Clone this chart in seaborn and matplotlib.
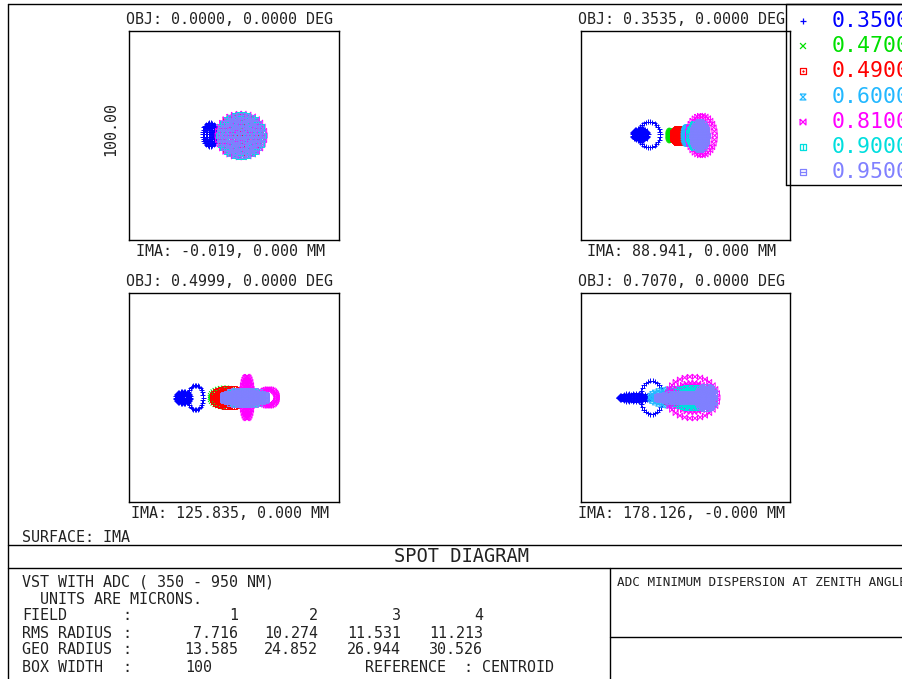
import numpy as np
import pandas as pd
import matplotlib
matplotlib.use("Agg")
import matplotlib.pyplot as plt
from matplotlib.path import Path
import seaborn as sns

# ---------------- data ----------------
WAVELENGTHS = ["0.3500", "0.4700", "0.4900", "0.6000", "0.8100", "0.9000", "0.9500"]
WAVE_COLORS = ["#0000ff", "#00e000", "#ff0000", "#22b8ff", "#ff00ff", "#00dede", "#8080ff"]
FIELD_OBJ = ["0.0000", "0.3535", "0.4999", "0.7070"]
FIELD_IMA = ["-0.019, 0.000", "88.941, 0.000", "125.835, 0.000", "178.126, -0.000"]
FIELD_NUM = ["1", "2", "3", "4"]
RMS_RADIUS = ["7.716", "10.274", "11.531", "11.213"]
GEO_RADIUS = ["13.585", "24.852", "26.944", "30.526"]
BOX_WIDTH = "100"

# spot components (microns): field, wavelength, centre, semi-axes, kind
SPOT_FIELD = [0, 0, 0, 0, 0, 0, 0,
              1, 1, 1, 1, 1, 1, 1, 1, 1,
              2, 2, 2, 2, 2, 2, 2, 2, 2,
              3, 3, 3, 3, 3, 3, 3, 3, 3, 3]
SPOT_WAVE = [0, 1, 2, 3, 4, 5, 6,
             0, 0, 1, 2, 3, 4, 4, 5, 6,
             0, 0, 1, 2, 3, 4, 4, 5, 6,
             0, 0, 1, 2, 3, 4, 4, 5, 6, 6]
SPOT_CX = [-11.4, 2.0, 2.5, 3.0, 3.4, 3.3, 3.3,
           -21.7, -17.4, -6.7, -3.3, 1.0, 7.6, 6.5, 5.0, 6.7,
           -24.3, -18.3, -4.3, -2.1, 2.9, 6.2, 16.4, 5.0, 5.0,
           -24.5, -16.2, -6.0, -4.0, -5.0, 3.3, 3.3, 3.0, 9.8, -2.0]
SPOT_CY = [0.5, 0, 0, 0, 0, 0, 0,
           0.5, 0.5, 0, 0, 0, 0, 0, 0, 0,
           0, 0, 0, 0, 0, 0, 0, 0, 0,
           0, 0, 0, 0, 0, 0, 0, 0, 0, 0]
SPOT_RX = [3.6, 9.0, 9.5, 10.0, 11.2, 10.6, 10.4,
           3.8, 5.2, 1.7, 3.1, 2.1, 6.4, 4.0, 3.5, 3.6,
           3.6, 3.6, 7.0, 8.3, 7.0, 2.4, 4.0, 8.5, 10.7,
           7.6, 5.5, 5.0, 6.0, 12.0, 12.0, 9.0, 9.0, 4.3, 12.0]
SPOT_RY = [5.7, 9.0, 9.5, 9.8, 10.5, 10.0, 9.8,
           2.9, 6.2, 2.5, 3.3, 4.0, 9.5, 7.0, 6.0, 6.7,
           3.0, 6.0, 4.5, 4.5, 3.0, 10.0, 4.0, 3.5, 3.6,
           2.0, 8.0, 3.0, 3.0, 4.0, 10.0, 7.0, 5.0, 5.5, 2.0]
SPOT_KIND = ["fill"] * 7 + \
            ["fill", "ring", "fill", "fill", "fill", "ring", "fill", "fill", "fill"] + \
            ["fill", "ring", "fill", "fill", "fill", "fill", "ring", "fill", "fill"] + \
            ["fill", "ring", "fill", "fill", "fill", "ring", "fill", "fill", "fill", "fill"]

# ---------------- ray sampling pattern (hexapolar) ----------------
def hexapolar(n_rings, ring_only):
    pts = [] if ring_only else [(0.0, 0.0)]
    start = n_rings if ring_only else 1
    for k in range(start, n_rings + 1):
        m = 6 * k
        for j in range(m):
            t = 2 * np.pi * j / m
            pts.append((k / n_rings * np.cos(t), k / n_rings * np.sin(t)))
    return np.array(pts)

rows = []
for f, w, cx, cy, rx, ry, kind in zip(SPOT_FIELD, SPOT_WAVE, SPOT_CX, SPOT_CY, SPOT_RX, SPOT_RY, SPOT_KIND):
    p = hexapolar(5, kind == "ring")
    for u, v in p:
        rows.append((f, w, cx + rx * u, cy + ry * v))
spots = pd.DataFrame(rows, columns=["field", "wave", "x", "y"])

# ---------------- marker shapes ----------------
M, L = Path.MOVETO, Path.LINETO
def mk(segs):
    verts, codes = [], []
    for seg in segs:
        for i, pt in enumerate(seg):
            verts.append(pt)
            codes.append(M if i == 0 else L)
    return Path(verts, codes)

sq = [(-1, -1), (1, -1), (1, 1), (-1, 1), (-1, -1)]
MARKERS = [
    mk([[(-1, 0), (1, 0)], [(0, -1), (0, 1)]]),
    mk([[(-1, -1), (1, 1)], [(-1, 1), (1, -1)]]),
    mk([sq, [(-0.3, 0), (0.3, 0)], [(0, -0.3), (0, 0.3)]]),
    mk([[(-1, 1), (1, 1), (-1, -1), (1, -1), (-1, 1)]]),
    mk([[(-1, 1), (-1, -1), (1, 1), (1, -1), (-1, 1)]]),
    mk([sq, [(0, -1), (0, 1)]]),
    mk([sq, [(-1, 0), (1, 0)]]),
]

# ---------------- figure ----------------
sns.set_style("white")
plt.rcParams["font.family"] = ["DejaVu Sans Mono", "DejaVu Sans"]
W, H = 902, 679
fig = plt.figure(figsize=(W / 100, H / 100), dpi=100)
fig.patch.set_facecolor("white")

ov = fig.add_axes([0, 0, 1, 1])
ov.set_xlim(0, W)
ov.set_ylim(H, 0)
ov.axis("off")

lw = 1.0
TXT = "#222222"
# frame
ov.plot([8, W], [4, 4], color="black", lw=lw)
ov.plot([8, 8], [4, H], color="black", lw=lw)
ov.plot([8, W], [545, 545], color="black", lw=lw)
ov.plot([8, W], [568, 568], color="black", lw=lw)
ov.plot([610, 610], [568, H], color="black", lw=lw)
ov.plot([610, W], [637, 637], color="black", lw=lw)
# legend box
ov.plot([786, 786, W], [185, 4, 4], color="black", lw=lw)
ov.plot([786, W], [185, 185], color="black", lw=lw)

PANELS = [(129, 31, 339, 240), (581, 31, 790, 240), (129, 293, 339, 502), (581, 293, 790, 502)]
fs = 10.8
for i, (l, t, r, b) in enumerate(PANELS):
    ax = fig.add_axes([l / W, 1 - b / H, (r - l) / W, (b - t) / H])
    ax.set_facecolor("none")
    for wi in range(len(WAVELENGTHS)):
        d = spots[(spots.field == i) & (spots.wave == wi)]
        if len(d) == 0:
            continue
        sns.scatterplot(data=d, x="x", y="y", ax=ax, marker=MARKERS[wi], s=13,
                        facecolor="none", edgecolor=WAVE_COLORS[wi], linewidth=0.7,
                        legend=False)
    ax.set_xlim(-50, 50)
    ax.set_ylim(-50, 50)
    ax.set_xticks([])
    ax.set_yticks([])
    ax.set_xlabel("")
    ax.set_ylabel("")
    for sp in ax.spines.values():
        sp.set_visible(True)
        sp.set_color("black")
        sp.set_linewidth(lw)
    cx = (l + r) / 2 - 4
    ov.text(cx, t - 11, f"OBJ: {FIELD_OBJ[i]}, 0.0000 DEG", ha="center", va="center",
            fontsize=fs, color=TXT)
    ov.text(cx, b + 11, f"IMA: {FIELD_IMA[i]} MM", ha="center", va="center",
            fontsize=fs, color=TXT)

ov.text(111, 129, f"{float(BOX_WIDTH):.2f}", rotation=90, ha="center", va="center",
        fontsize=fs, color=TXT)

# legend entries (the reference cuts these labels at the right edge)
leg_y = [21, 46, 71, 97, 122, 147, 172]
for wi, name in enumerate(WAVELENGTHS):
    ov.scatter([803], [leg_y[wi]], marker=MARKERS[wi], s=18, facecolor="none",
               edgecolor=WAVE_COLORS[wi], linewidth=0.9)
    ov.text(832, leg_y[wi], name, color=WAVE_COLORS[wi], ha="left", va="center", fontsize=15.5)

# bottom texts
ov.text(22, 537, "SURFACE: IMA", ha="left", va="center", fontsize=fs, color=TXT)
ov.text(461, 557, "SPOT DIAGRAM", ha="center", va="center", fontsize=13.5, color=TXT)
ov.text(22, 582, "VST WITH ADC ( 350 - 950 NM)", ha="left", va="center", fontsize=fs, color=TXT)
ov.text(40, 600, "UNITS ARE MICRONS.", ha="left", va="center", fontsize=fs, color=TXT)
row_y = [616, 633, 650, 667]
row_lab = ["FIELD", "RMS RADIUS", "GEO RADIUS", "BOX WIDTH"]
for y, lab in zip(row_y, row_lab):
    ov.text(22, y, lab, ha="left", va="center", fontsize=fs, color=TXT)
    ov.text(127, y, ":", ha="center", va="center", fontsize=fs, color=TXT)
col_x = [238, 318, 401, 483]
for j in range(4):
    ov.text(col_x[j], row_y[0], FIELD_NUM[j], ha="right", va="center", fontsize=fs, color=TXT)
    ov.text(col_x[j], row_y[1], RMS_RADIUS[j], ha="right", va="center", fontsize=fs, color=TXT)
    ov.text(col_x[j], row_y[2], GEO_RADIUS[j], ha="right", va="center", fontsize=fs, color=TXT)
ov.text(185, row_y[3], BOX_WIDTH, ha="left", va="center", fontsize=fs, color=TXT)
ov.text(365, row_y[3], "REFERENCE  : CENTROID", ha="left", va="center", fontsize=fs, color=TXT)
ov.text(617, 583, "ADC MINIMUM DISPERSION AT ZENITH ANGLE", ha="left", va="center",
        fontsize=9.1, color=TXT)

fig.savefig("out.png", dpi=100)
